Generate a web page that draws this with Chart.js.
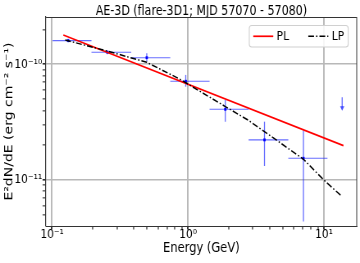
<!DOCTYPE html>
<html><head><meta charset="utf-8">
<script src="https://cdn.jsdelivr.net/npm/chart.js@4.4.0/dist/chart.umd.min.js"></script>
<style>
html,body{margin:0;padding:0;background:#fff;overflow:hidden;width:360px;height:263px;}
#wrap{position:absolute;left:0;top:0;width:439px;height:263px;transform:scaleX(0.82005);transform-origin:0 0;}
</style></head><body>
<div id="wrap"><canvas id="c" width="439" height="263"></canvas></div>
<script>
// ---------- data ----------
const plEnergy = [0.121, 13.9];
const plFlux   = [1.79e-10, 1.98e-11];
const lpEnergy = [0.125, 0.255, 0.497, 0.859, 1.88, 2.79, 7.06, 9.96, 13.4];
const lpFlux   = [1.62e-10, 1.30e-10, 1.04e-10, 7.5e-11, 4.31e-11, 3.27e-11, 1.51e-11, 1.0e-11, 7.28e-12];
const ptEnergy = [0.1315, 0.255, 0.497, 0.962, 1.88, 3.65, 7.06];
const ptELo    = [0.101, 0.195, 0.382, 0.74, 1.44, 2.79, 5.46];
const ptEHi    = [0.195, 0.382, 0.74, 1.44, 2.79, 5.46, 10.6];
const ptFlux   = [1.60e-10, 1.27e-10, 1.14e-10, 7.13e-11, 4.08e-11, 2.22e-11, 1.54e-11];
const ptFluxLo = [1.55e-10, 1.22e-10, 1.054e-10, 6.40e-11, 3.19e-11, 1.32e-11, 4.37e-12];
const ptFluxHi = [1.66e-10, 1.32e-10, 1.245e-10, 8.09e-11, 4.91e-11, 3.19e-11, 2.67e-11];
const ulEnergy = [13.6];
const ulFlux   = [5.19e-11];
const xRange = [0.0903, 17.4];
const yRange = [4.0e-12, 2.56e-10];
const xTicks = [0.1, 1, 10];
const xTickLabels = ['10\u207B\u00B9', '10\u2070', '10\u00B9'];
const xMinorTicks = [0.2,0.3,0.4,0.5,0.6,0.7,0.8,0.9,2,3,4,5,6,7,8,9];
const yTicks = [1e-11, 1e-10];
const yTickLabels = ['10\u207B\u00B9\u00B9', '10\u207B\u00B9\u2070'];
const yMinorTicks = [5e-12,6e-12,7e-12,8e-12,9e-12,2e-11,3e-11,4e-11,5e-11,6e-11,7e-11,8e-11,9e-11,2e-10];
const legendOrder = ['PL', 'LP'];
const titleText = 'AE-3D (flare-3D1; MJD 57070 - 57080)';
const xTitle = 'Energy (GeV)';
const yTitle = 'E\u00B2dN/dE (erg cm\u207B\u00B2 s\u207B\u00B9)';

// ---------- rendering ----------
const S = 360 / 439;
const FONT = 'DejaVu Sans';
Chart.defaults.font.family = FONT;
Chart.defaults.color = '#000';

function near(a, b){ return Math.abs(Math.log10(a) - Math.log10(b)) < 1e-6; }
function tickList(major, minor, range){
  return major.concat(minor).filter(v => v >= range[0] && v <= range[1])
    .sort((a,b)=>a-b).map(v => ({value: v}));
}
function labelFor(v, vals, labels){
  for (let i=0;i<vals.length;i++) if (near(v, vals[i])) return labels[i];
  return '';
}
function isMajor(v, vals){ return vals.some(m => near(v, m)); }

const errorBars = {
  id: 'errorBars',
  beforeDatasetsDraw(chart){
    const {ctx, chartArea: a, scales: {x, y}} = chart;
    ctx.save();
    ctx.beginPath(); ctx.rect(a.left, a.top, a.right - a.left, a.bottom - a.top); ctx.clip();
    ctx.strokeStyle = 'rgba(30,40,255,0.68)';
    ctx.fillStyle = 'rgba(30,40,255,0.8)';
    for (let i = 0; i < ptEnergy.length; i++){
      const px = x.getPixelForValue(ptEnergy[i]);
      const py = y.getPixelForValue(ptFlux[i]);
      ctx.lineWidth = 1.1;
      ctx.beginPath();
      ctx.moveTo(x.getPixelForValue(ptELo[i]), py);
      ctx.lineTo(x.getPixelForValue(ptEHi[i]), py);
      ctx.stroke();
      ctx.lineWidth = 1.3;
      ctx.beginPath();
      ctx.moveTo(px, y.getPixelForValue(ptFluxLo[i]));
      ctx.lineTo(px, y.getPixelForValue(ptFluxHi[i]));
      ctx.stroke();
    }
    for (let i = 0; i < ulEnergy.length; i++){
      const px = x.getPixelForValue(ulEnergy[i]);
      const py = y.getPixelForValue(ulFlux[i]);
      ctx.lineWidth = 1.3;
      ctx.beginPath(); ctx.moveTo(px, py); ctx.lineTo(px, py + 10); ctx.stroke();
      ctx.beginPath();
      ctx.moveTo(px - 2.6, py + 9); ctx.lineTo(px + 2.6, py + 9); ctx.lineTo(px, py + 13.5); ctx.closePath();
      ctx.fill();
    }
    ctx.restore();
  }
};

const frameAndLegend = {
  id: 'frameAndLegend',
  afterDraw(chart){
    const {ctx, chartArea: a} = chart;
    ctx.save();
    // top & right spines
    ctx.strokeStyle = '#333';
    ctx.lineWidth = 1;
    ctx.beginPath();
    ctx.moveTo(a.left, Math.round(a.top) + 0.5); ctx.lineTo(a.right, Math.round(a.top) + 0.5);
    ctx.moveTo(a.right, a.top); ctx.lineTo(a.right, a.bottom);
    ctx.stroke();
    // legend
    const items = legendOrder.map(l => chart.data.datasets.find(d => d.label === l)).filter(Boolean);
    const bw = 120.7, bh = 21.5;
    const bx = a.right - 8.5 / S - bw, by = a.top + 8;
    ctx.beginPath();
    if (ctx.roundRect) ctx.roundRect(bx, by + 0.5, bw, bh, 3); else ctx.rect(bx, by + 0.5, bw, bh);
    ctx.fillStyle = 'rgba(255,255,255,0.85)';
    ctx.fill();
    ctx.strokeStyle = '#d0d0d0';
    ctx.lineWidth = 1.1;
    ctx.stroke();
    const cy = by + bh / 2 + 0.5;
    const offs = [4.9, 72];
    ctx.font = '13px "' + FONT + '"';
    ctx.textBaseline = 'middle';
    ctx.textAlign = 'left';
    items.forEach((d, k) => {
      const x0 = bx + offs[k];
      ctx.strokeStyle = d.borderColor;
      ctx.lineWidth = d.borderWidth;
      ctx.setLineDash(d.borderDash || []);
      ctx.beginPath(); ctx.moveTo(x0, cy); ctx.lineTo(x0 + 24.4, cy); ctx.stroke();
      ctx.setLineDash([]);
      ctx.fillStyle = '#000';
      ctx.fillText(d.label, x0 + 28.5, cy + 0.5);
    });
    ctx.restore();
  }
};

const toXY = (xs, ys) => xs.map((v, i) => ({x: v, y: ys[i]}));

new Chart(document.getElementById('c'), {
  type: 'scatter',
  data: {
    datasets: [
      { label: 'LP', data: toXY(lpEnergy, lpFlux), showLine: true, pointRadius: 0,
        borderColor: '#000', borderWidth: 1.5, borderDash: [7, 2.5, 1.6, 2.5], order: 1 },
      { label: 'PL', data: toXY(plEnergy, plFlux), showLine: true, pointRadius: 0,
        borderColor: '#ff0000', borderWidth: 1.7, order: 2 },
      { label: 'data', data: toXY(ptEnergy, ptFlux), pointRadius: 2, pointStyle: 'rect',
        backgroundColor: '#0000ff', borderColor: '#0000ff', borderWidth: 0, order: 3 }
    ]
  },
  options: {
    responsive: false,
    animation: false,
    events: [],
    devicePixelRatio: 1,
    layout: { padding: { left: 0, right: 1.2, top: 0, bottom: 0 } },
    plugins: {
      legend: { display: false },
      tooltip: { enabled: false },
      title: {
        display: true, text: titleText, fullSize: false,
        font: { family: FONT, size: 13.5, weight: 'normal', lineHeight: 0.78 },
        color: '#000', padding: { top: 6.4, bottom: 0.1 }
      }
    },
    scales: {
      x: {
        type: 'logarithmic', min: xRange[0], max: xRange[1], bounds: 'data',
        afterFit: s => { s.height = 37; },
        afterBuildTicks: s => { s.ticks = tickList(xTicks, xMinorTicks, xRange); },
        ticks: {
          autoSkip: false, maxRotation: 0, minRotation: 0, padding: -2.5,
          font: { family: FONT, size: 13 }, color: '#000',
          major: { enabled: false },
          callback: v => labelFor(v, xTicks, xTickLabels)
        },
        grid: {
          color: c => (c.tick && isMajor(c.tick.value, xTicks)) ? '#b8b8b8' : 'rgba(0,0,0,0)',
          lineWidth: 1.9,
          tickColor: c => (c.tick && isMajor(c.tick.value, xTicks)) ? '#333' : '#777',
          tickLength: 3.5, drawTicks: true
        },
        border: { display: true, color: '#333', width: 1 },
        title: { display: true, text: xTitle, color: '#000',
          font: { family: FONT, size: 14 }, padding: { top: 0, bottom: 6 } }
      },
      y: {
        type: 'logarithmic', min: yRange[0], max: yRange[1], bounds: 'data',
        afterFit: s => { s.width = 46 / S; },
        afterBuildTicks: s => { s.ticks = tickList(yTicks, yMinorTicks, yRange); },
        ticks: {
          autoSkip: false, padding: 0.5,
          font: { family: FONT, size: 13 }, color: '#000',
          major: { enabled: false },
          callback: v => labelFor(v, yTicks, yTickLabels)
        },
        grid: {
          color: c => (c.tick && isMajor(c.tick.value, yTicks)) ? '#b8b8b8' : 'rgba(0,0,0,0)',
          lineWidth: 1.6,
          tickColor: c => (c.tick && isMajor(c.tick.value, yTicks)) ? '#333' : '#777',
          tickLength: 4.2, drawTicks: true
        },
        border: { display: true, color: '#333', width: 1.2 },
        title: { display: true, text: yTitle, color: '#000',
          font: { family: FONT, size: 14 }, padding: { top: 2.6, bottom: 0 } }
      }
    }
  },
  plugins: [errorBars, frameAndLegend]
});
</script>
</body></html>
